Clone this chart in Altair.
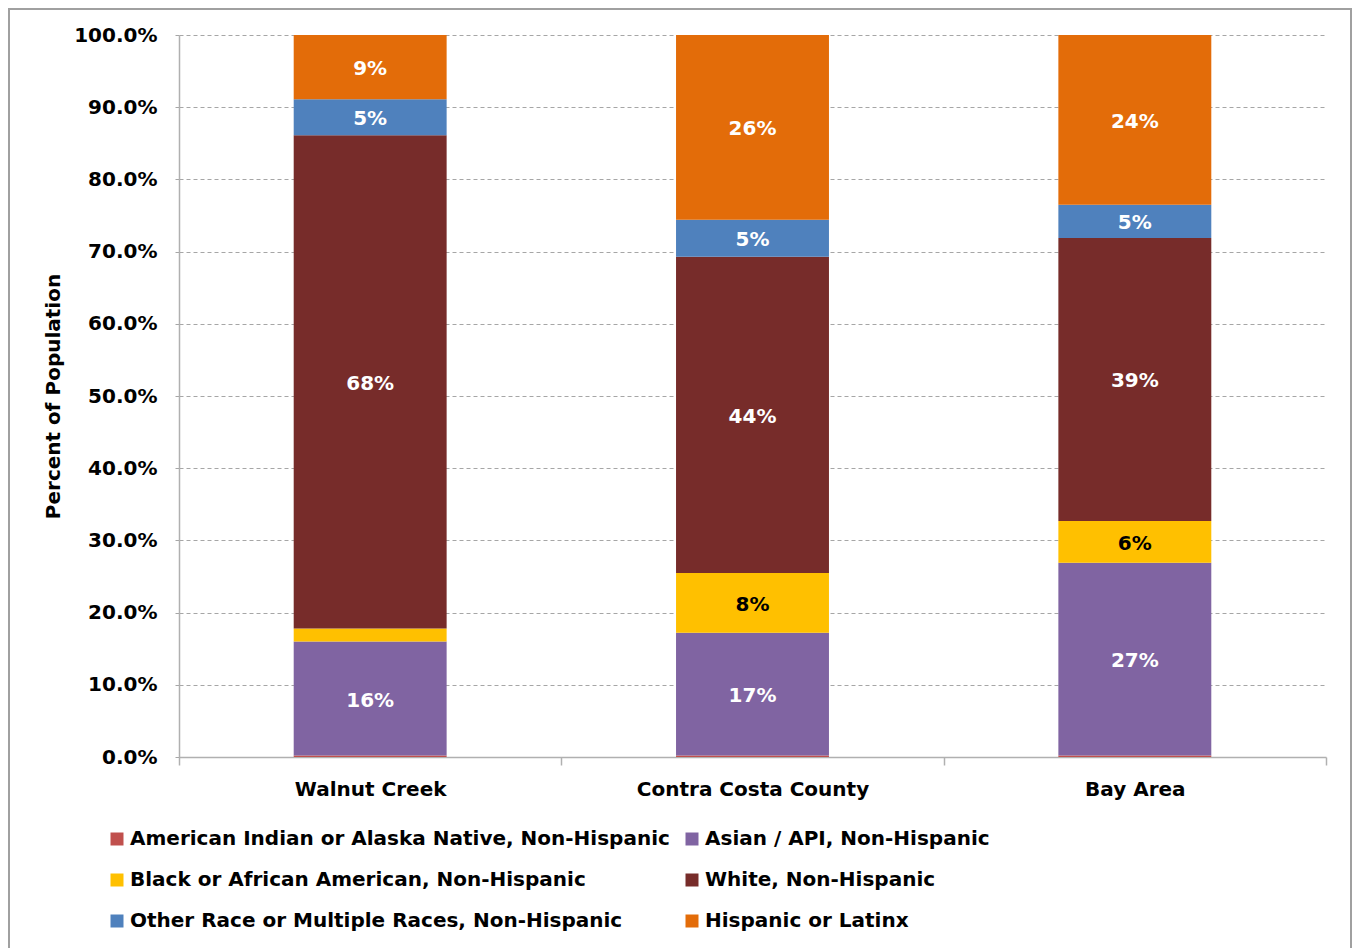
import altair as alt
import pandas as pd

regions = ["Walnut Creek", "Contra Costa County", "Bay Area"]
groups = [
    "American Indian or Alaska Native, Non-Hispanic",
    "Asian / API, Non-Hispanic",
    "Black or African American, Non-Hispanic",
    "White, Non-Hispanic",
    "Other Race or Multiple Races, Non-Hispanic",
    "Hispanic or Latinx",
]
colors = ["#C0504D", "#8064A2", "#FFC000", "#772C2A", "#4F81BD", "#E36C09"]

# percent of population per group (same order as groups), per region
ai = [0.2, 0.2, 0.2]
asian = [15.8, 17.0, 26.7]
black = [1.8, 8.3, 5.8]
white = [68.3, 43.8, 39.2]
other = [5.0, 5.1, 4.6]
hispanic = [8.9, 25.6, 23.5]

# data labels shown on the bars ("" = no label)
lab_ai = ["", "", ""]
lab_asian = ["16%", "17%", "27%"]
lab_black = ["", "8%", "6%"]
lab_white = ["68%", "44%", "39%"]
lab_other = ["5%", "5%", "5%"]
lab_hispanic = ["9%", "26%", "24%"]

series = [ai, asian, black, white, other, hispanic]
labels = [lab_ai, lab_asian, lab_black, lab_white, lab_other, lab_hispanic]

rows = []
for gi, (g, vals, labs) in enumerate(zip(groups, series, labels)):
    for ri, r in enumerate(regions):
        rows.append({"region": r, "group": g, "order": gi,
                     "frac": vals[ri] / 100.0, "label": labs[ri]})
df = pd.DataFrame(rows)

# legend fills column by column: reorder so it reads row by row like the original
legend_order = [0, 2, 4, 1, 3, 5]
leg_groups = [groups[i] for i in legend_order]
leg_colors = [colors[i] for i in legend_order]

FONT = "DejaVu Sans"

x_scale = alt.Scale(paddingInner=0, paddingOuter=0)

x_enc = alt.X("region:N", sort=regions, title=None, scale=x_scale,
              axis=alt.Axis(labelAngle=0, labelFontSize=20, labelFontWeight="bold",
                            labelColor="#000000", labelPadding=14, labelLimit=600,
                            domainColor="#b0b0b0", domainWidth=1.5,
                            tickColor="#b0b0b0", tickSize=8, tickWidth=1.5,
                            tickBand="extent", grid=False))

y_scale = alt.Scale(domain=[0, 1], nice=False)

bars = alt.Chart().mark_bar(width=alt.RelativeBandSize(0.4)).encode(
    x=x_enc,
    y=alt.Y("y0:Q", scale=y_scale, title="Percent of Population",
            axis=alt.Axis(format=".1%", values=[i / 10 for i in range(11)],
                          labelFontSize=20, labelFontWeight="bold", labelColor="#000000",
                          labelPadding=15,
                          titleFontSize=20, titleFontWeight="bold", titleColor="#000000",
                          titlePadding=10,
                          domainColor="#b0b0b0", domainWidth=1.5,
                          tickColor="#a6a6a6", tickSize=7, tickDash=[4, 3],
                          grid=True, gridColor="#a6a6a6", gridDash=[4, 3], gridWidth=1)),
    y2="y1:Q",
    color=alt.Color("group:N", scale=alt.Scale(domain=leg_groups, range=leg_colors),
                    legend=alt.Legend(title=None, orient="none", legendX=-72, legendY=794,
                                      columns=2, columnPadding=12, rowPadding=21,
                                      symbolType="square", symbolSize=169,
                                      symbolStrokeWidth=0, symbolOpacity=1,
                                      labelFontSize=20, labelFontWeight="bold",
                                      labelColor="#000000", labelOffset=3,
                                      labelLimit=800)),
)

text = alt.Chart().mark_text(fontSize=20, fontWeight="bold", font=FONT, dy=2).encode(
    x=alt.X("region:N", sort=regions, scale=x_scale),
    y=alt.Y("mid:Q", scale=y_scale),
    text="label:N",
    color=alt.condition("datum.group == 'Black or African American, Non-Hispanic'",
                        alt.value("#000000"), alt.value("#FFFFFF")),
)

border = alt.Chart(alt.Data(values=[{}])).mark_rect(
    fill=None, stroke="#a0a0a0", strokeWidth=2
).encode(x=alt.value(-170), x2=alt.value(1172), y=alt.value(-26), y2=alt.value(940))

chart = alt.layer(
    bars, text, data=df
).transform_stack(
    stack="frac", groupby=["region"], as_=["y0", "y1"],
    sort=[alt.SortField("order", order="ascending")]
).transform_calculate(
    mid="(datum.y0 + datum.y1) / 2"
)

final = alt.layer(chart, border).properties(
    width=1147, height=722,
    autosize=alt.AutoSizeParams(type="none"),
    padding={"left": 179, "top": 35, "right": 27, "bottom": 191},
).configure(font=FONT).configure_view(stroke=None)

final.save("out.html", embed_options={"renderer": "svg", "actions": False})
